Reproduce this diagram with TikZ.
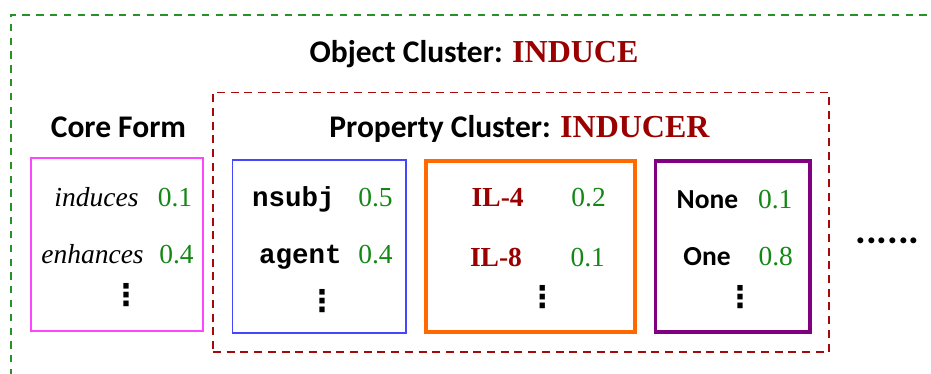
\documentclass[tikz,border=0pt]{standalone}
\usepackage{fontspec}
\setmainfont{Liberation Serif}
\newfontfamily\calib{Carlito}
\newfontfamily\monof{Liberation Mono}
\newfontfamily\symf{DejaVu Sans}

\definecolor{clgreen}{RGB}{40,145,40}
\definecolor{numgreen}{RGB}{20,135,20}
\definecolor{darkred}{RGB}{155,0,0}
\definecolor{clred}{RGB}{165,10,10}
\definecolor{boxmagenta}{RGB}{255,70,255}
\definecolor{boxblue}{RGB}{70,70,255}
\definecolor{boxorange}{RGB}{255,105,0}
\definecolor{boxpurple}{RGB}{128,0,128}

\tikzset{
  objline/.style={line width=1.8pt, dash pattern=on 7.3pt off 6.5pt},
  propline/.style={line width=1.8pt, dash pattern=on 8pt off 5.7pt},
  framebox/.style={draw, inner sep=0pt, outer sep=0pt},
  thinbox/.style={framebox, line width=1.3pt},
  thickbox/.style={framebox, line width=3.3pt},
  title/.style={anchor=base, inner sep=0pt, font=\calib\bfseries\fontsize{31.5}{34}\selectfont},
  word/.style={anchor=base, inner sep=0pt, font=\fontsize{27.5}{30}\selectfont},
  prob/.style={word, text=numgreen},
  vdotsmark/.style={inner sep=0pt, font=\symf\bfseries\fontsize{30}{30}\selectfont},
}

\begin{document}
\begin{tikzpicture}[x=1pt,y=-1pt]
\useasboundingbox (0,0) rectangle (931,374);
\clip (0,0) rectangle (931,374);

% object cluster frame (open to the right and bottom)
\coordinate (objbl) at (11,390);
\coordinate (objtl) at (11,15);
\coordinate (objtr) at (945,15);
\draw[objline, clgreen] (objbl) -- (objtl) -- (objtr);

\node[title] (objtitle) at (474,63)
  {Object Cluster: {\rmfamily\bfseries\fontsize{32}{34}\selectfont\color{darkred}INDUCE}};

% property cluster frame
\node[framebox, propline, draw=clred, minimum width=616pt, minimum height=259.5pt]
  (propcluster) at (521,222.25) {};
\node[title] (proptitle) at (519.5,138)
  {Property Cluster: {\rmfamily\bfseries\fontsize{32}{34}\selectfont\color{darkred}INDUCER}};

\node[title] (coretitle) at (118.5,138) {Core Form};

% core form box
\node[thinbox, draw=boxmagenta, minimum width=172pt, minimum height=173pt] (corebox) at (117,244.5) {};
\node[word, font=\itshape\fontsize{27.5}{30}\selectfont] (w-induces) at (96.5,206) {induces};
\node[prob] (p-induces) at (175,206) {0.1};
\node[word, font=\itshape\fontsize{27.5}{30}\selectfont] (w-enhances) at (92.5,263) {enhances};
\node[prob] (p-enhances) at (176.5,263) {0.4};
\node[vdotsmark] (d-core) at (126,295.5) {⋮};

% dependency box
\node[thinbox, draw=boxblue, minimum width=173.5pt, minimum height=173pt] (depbox) at (319.25,246.5) {};
\node[word, font=\monof\bfseries\fontsize{27.5}{30}\selectfont] (w-nsubj) at (293.5,207) {nsubj};
\node[prob] (p-nsubj) at (375.5,207) {0.5};
\node[word, font=\monof\bfseries\fontsize{27.5}{30}\selectfont] (w-agent) at (300.5,263) {agent};
\node[prob] (p-agent) at (375.5,263) {0.4};
\node[vdotsmark] (d-dep) at (322,301) {⋮};

% entity box
\node[thickbox, draw=boxorange, minimum width=209pt, minimum height=171pt] (entbox) at (530.6,246.5) {};
\node[word, font=\bfseries\fontsize{27.5}{30}\selectfont, text=darkred] (w-il4) at (497.7,207) {IL-4};
\node[prob] (p-il4) at (588.6,207) {0.2};
\node[word, font=\bfseries\fontsize{27.5}{30}\selectfont, text=darkred] (w-il8) at (496,266) {IL-8};
\node[prob] (p-il8) at (587.8,266) {0.1};
\node[vdotsmark] (d-ent) at (542.4,297.5) {⋮};

% count box
\node[thickbox, draw=boxpurple, minimum width=154.5pt, minimum height=171pt] (cntbox) at (732.8,246.5) {};
\node[word, font=\calib\bfseries\fontsize{27.5}{30}\selectfont] (w-none) at (707.4,208) {None};
\node[prob] (p-none) at (775.3,208) {0.1};
\node[word, font=\calib\bfseries\fontsize{27.5}{30}\selectfont] (w-one) at (707,265) {One};
\node[prob] (p-one) at (775.8,265) {0.8};
\node[vdotsmark] (d-cnt) at (740,297.5) {⋮};

% further clusters
\node[anchor=base, inner sep=0pt, font=\calib\bfseries\fontsize{40}{40}\selectfont] (etc) at (887.5,243) {......};
\end{tikzpicture}
\end{document}
